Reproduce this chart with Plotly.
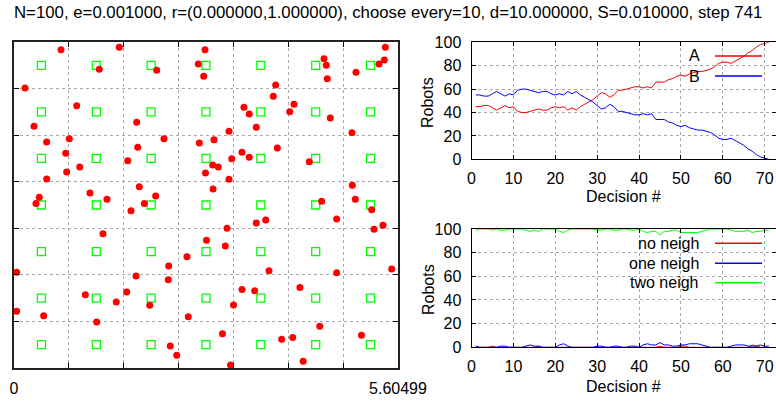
import plotly.graph_objects as go

# ---------------- data ----------------
title_text = ("N=100, e=0.001000, r=(0.000000,1.000000), choose every=10, "
              "d=10.000000, S=0.010000, step 741")

arena_size = 5.60499
grid_ticks = [0.0, 0.80071, 1.60143, 2.40214, 3.20285, 4.00356, 4.80428, 5.60499]
grid_ticktext = ["0", "", "", "", "", "", "", "5.60499"]
target_centres = [0.40036, 1.20107, 2.00178, 2.80250, 3.60321, 4.40392, 5.20463]

robot_x = [0.686, 1.537, 1.245, 2.083, 2.690, 0.161, 0.915, 0.292, 1.791, 0.807,
           0.477, 2.189, 1.806, 2.705, 0.755, 1.660, 0.959, 0.769, 2.795, 0.477,
           1.829, 1.109, 2.068, 0.369, 1.357, 0.321, 1.902, 1.708, 1.299, 2.810,
           2.525, 2.258, 0.039, 1.781, 2.252, 1.041, 1.645, 1.493, 1.981, 0.039,
           0.433, 2.544, 1.207, 2.281, 2.375, 2.788, 2.769, 5.420, 4.525, 4.558,
           5.405, 5.328, 4.992, 4.573, 3.820, 3.785, 3.357, 4.087, 3.434, 4.024,
           4.617, 3.537, 3.138, 4.933, 2.919, 3.843, 3.328, 3.178, 3.434, 4.310,
           2.900, 2.982, 3.138, 2.905, 4.938, 4.982, 4.491, 3.537, 3.674, 3.109,
           4.710, 5.221, 5.255, 5.386, 3.084, 3.722, 4.710, 5.513, 3.328, 3.513,
           4.174, 3.204, 4.463, 3.043, 3.907, 4.068, 5.072, 4.221, 3.160]
robot_y = [5.473, 5.514, 5.136, 5.118, 5.227, 4.814, 4.510, 4.156, 4.224, 3.942,
           3.886, 3.942, 3.794, 3.868, 3.691, 3.564, 3.456, 3.370, 3.353, 3.249,
           3.117, 3.009, 2.957, 2.935, 2.900, 2.828, 2.828, 2.704, 2.309, 2.196,
           1.914, 1.754, 1.645, 1.582, 1.518, 1.260, 1.307, 1.135, 1.078, 0.975,
           0.899, 0.882, 0.791, 0.378, 0.218, 5.473, 5.015, 5.514, 5.318, 5.204,
           5.295, 5.227, 5.084, 4.974, 4.866, 4.671, 4.482, 4.534, 4.367, 4.407,
           4.298, 4.138, 4.070, 4.045, 3.925, 3.782, 3.709, 3.599, 3.622, 3.547,
           3.490, 3.456, 3.244, 3.078, 3.141, 2.900, 2.866, 2.493, 2.545, 2.402,
           2.562, 2.722, 2.385, 2.453, 2.098, 1.673, 1.638, 1.702, 1.350, 1.329,
           1.384, 1.083, 0.719, 0.588, 0.493, 0.524, 0.562, 0.115, 0.052]

decisions = list(range(1, 72))
count_A = [45, 45, 46, 46, 44, 42, 44, 46, 44, 45,
           41, 40, 40, 41, 42, 43, 42, 42, 44, 45,
           44, 45, 42, 44, 42, 45, 47, 49, 51, 54,
           57, 56, 53, 55, 59, 59, 60, 61, 62, 62,
           61, 62, 61, 66, 66, 66, 68, 69, 71, 72,
           71, 73, 74, 75, 75, 76, 77, 79, 82, 83,
           83, 82, 84, 86, 88, 91, 93, 96, 98, 99, 100]
count_B = [55, 55, 54, 54, 56, 58, 56, 54, 56, 55,
           59, 60, 60, 59, 58, 57, 58, 58, 56, 55,
           56, 55, 58, 56, 58, 55, 53, 51, 49, 46,
           43, 44, 47, 45, 41, 41, 40, 39, 38, 38,
           39, 38, 39, 34, 34, 34, 32, 31, 29, 28,
           29, 27, 26, 25, 25, 24, 23, 21, 18, 17,
           17, 18, 16, 14, 12, 9, 7, 4, 2, 1, 0]

no_neigh = [0, 0, 0, 0, 1, 0, 0, 0, 0, 0,
            0, 0, 0, 0, 0, 1, 0, 0, 0, 0,
            0, 0, 0, 0, 0, 0, 0, 0, 0, 0,
            0, 0, 0, 0, 0, 0, 0, 0, 0, 0,
            0, 0, 0, 0, 1, 0, 0, 0, 0, 1,
            1, 0, 0, 0, 0, 0, 0, 0, 0, 0,
            0, 0, 0, 0, 0, 0, 2, 1, 0, 0, 0]
one_neigh = [1, 0, 0, 0, 0, 0, 1, 1, 0, 0,
             0, 0, 1, 2, 1, 1, 0, 0, 0, 0,
             2, 3, 1, 0, 0, 0, 0, 0, 0, 1,
             1, 0, 0, 1, 1, 0, 0, 1, 1, 0,
             2, 3, 2, 2, 4, 2, 2, 1, 1, 2,
             2, 3, 3, 3, 2, 1, 0, 0, 0, 0,
             0, 1, 2, 2, 2, 1, 1, 1, 2, 1, 1]
two_neigh = [99, 100, 100, 100, 99, 100, 99, 99, 100, 100,
             100, 100, 99, 98, 99, 98, 100, 100, 100, 100,
             98, 97, 99, 100, 100, 100, 100, 100, 100, 99,
             99, 100, 100, 99, 99, 100, 100, 99, 99, 100,
             98, 97, 98, 98, 95, 98, 98, 99, 99, 97,
             97, 97, 97, 97, 98, 99, 100, 100, 100, 100,
             100, 99, 98, 98, 98, 99, 97, 98, 98, 99, 99]

# ---------------- styling ----------------
FONT = "Liberation Sans, Arial, Helvetica, sans-serif"
GRID = "#a8a8a8"

target_x = [cx for cy in target_centres for cx in target_centres]
target_y = [cy for cy in target_centres for cx in target_centres]

fig = go.Figure()

fig.add_trace(go.Scatter(x=target_x, y=target_y, mode="markers",
                         marker=dict(symbol="square-open", size=8, color="#00ff00",
                                     line=dict(width=1.3, color="#00ff00")),
                         xaxis="x", yaxis="y", showlegend=False, cliponaxis=False))
fig.add_trace(go.Scatter(x=robot_x, y=robot_y, mode="markers",
                         marker=dict(symbol="circle", size=7, color="#ff0000"),
                         xaxis="x", yaxis="y", showlegend=False, cliponaxis=False))

top_series = [("A", count_A, "#ff0000"), ("B", count_B, "#0000ff")]
bot_series = [("no neigh", no_neigh, "#ff0000"), ("one neigh", one_neigh, "#0000ff"),
              ("two neigh", two_neigh, "#00ff00")]

for name, vals, col in top_series:
    fig.add_trace(go.Scatter(x=decisions, y=vals, mode="lines", name=name,
                             line=dict(color=col, width=1), xaxis="x2", yaxis="y2",
                             showlegend=False))
for name, vals, col in bot_series:
    fig.add_trace(go.Scatter(x=decisions, y=vals, mode="lines", name=name,
                             line=dict(color=col, width=1), xaxis="x3", yaxis="y3",
                             showlegend=False))

W, H = 776, 403
def px(x):
    return x / W
def py(y):
    return (H - y) / H

frame = dict(showline=True, linecolor="#000000", linewidth=1, mirror="ticks",
             ticks="inside", ticklen=4, tickcolor="#000000", zeroline=False,
             showgrid=True, gridcolor=GRID, griddash="dot", gridwidth=1,
             automargin=False,
             tickfont=dict(family=FONT, size=16, color="#000000"))

arena_axis = dict(frame, linecolor="#222222", linewidth=1.5, range=[0, arena_size],
                  tickmode="array", tickvals=grid_ticks, ticklen=5)

fig.update_layout(
    template="none",
    width=W, height=H, margin=dict(l=0, r=0, t=0, b=0, autoexpand=False),
    paper_bgcolor="white", plot_bgcolor="white", showlegend=False,
    xaxis=dict(arena_axis, domain=[px(14), px(398)], anchor="y",
               ticktext=grid_ticktext, ticklabelstandoff=5),
    yaxis=dict(arena_axis, domain=[py(368), py(42)], anchor="x",
               showticklabels=False),
    xaxis2=dict(frame, domain=[px(471.5), 1.0], anchor="y2", range=[0, 72.7],
                dtick=10, tick0=0, ticklabelstandoff=4),
    yaxis2=dict(frame, domain=[py(159.3), py(42.3)], anchor="x2", range=[0, 100],
                dtick=20, tick0=0, ticklabelstandoff=6),
    xaxis3=dict(frame, domain=[px(471.5), 1.0], anchor="y3", range=[0, 72.7],
                dtick=10, tick0=0, ticklabelstandoff=4),
    yaxis3=dict(frame, domain=[py(347.3), py(229)], anchor="x3", range=[0, 100],
                dtick=20, tick0=0, ticklabelstandoff=6),
)

ann = []
ann.append(dict(text=title_text, x=0.5, y=py(13), xref="paper", yref="paper",
                xanchor="center", yanchor="middle", showarrow=False,
                font=dict(family=FONT, size=16.8, color="#000000")))
for yc in (103, 290):
    ann.append(dict(text="Robots", x=px(428), y=py(yc), xref="paper", yref="paper",
                    xanchor="center", yanchor="middle", textangle=-90, showarrow=False,
                    font=dict(family=FONT, size=16, color="#000000")))
for yc in (196, 386.5):
    ann.append(dict(text="Decision #", x=px(623), y=py(yc), xref="paper", yref="paper",
                    xanchor="center", yanchor="middle", showarrow=False,
                    font=dict(family=FONT, size=16, color="#000000")))

shapes = []
legend_rows = [(top_series, [56, 76], 702), (bot_series, [243.3, 263.3, 282.7], 701)]
for series, ys, xr in legend_rows:
    for (name, vals, col), yc in zip(series, ys):
        ann.append(dict(text=name, x=px(xr), y=py(yc), xref="paper", yref="paper",
                        xanchor="right", yanchor="middle", showarrow=False,
                        font=dict(family=FONT, size=16, color="#000000")))
        shapes.append(dict(type="line", xref="paper", yref="paper",
                           x0=px(715), x1=px(762), y0=py(yc), y1=py(yc),
                           line=dict(color=col, width=1.5)))

fig.update_layout(annotations=ann, shapes=shapes)

fig.write_html("out.html")
